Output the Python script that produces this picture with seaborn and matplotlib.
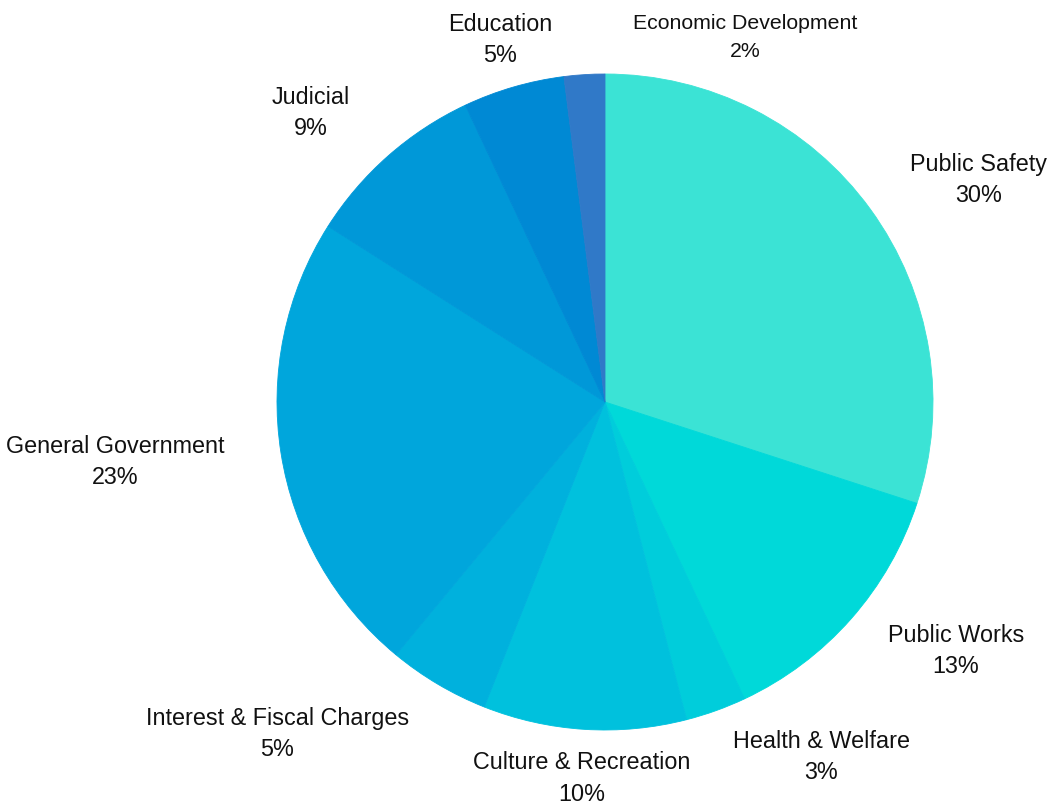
"""Expenditure share pie chart."""
import numpy as np
import matplotlib
matplotlib.use("Agg")
import matplotlib.pyplot as plt
import seaborn as sns

sns.set_theme(style="white")
plt.rcParams["font.family"] = ["Liberation Sans", "DejaVu Sans"]

# --- Data ---
categories = ["Public Safety", "Public Works", "Health & Welfare", "Culture & Recreation",
              "Interest & Fiscal Charges", "General Government", "Judicial", "Education",
              "Economic Development"]
shares = [30, 13, 3, 10, 5, 23, 9, 5, 2]
colors = ["#3be3d5", "#00d9d9", "#00cddb", "#00c1dd", "#00b1dd",
          "#00a6dc", "#0098d8", "#0089d4", "#3079c8"]
palette = sns.color_palette(colors)

W, H = 1048, 806
CX, CY, R = 605, 402, 328

fig = plt.figure(figsize=(W / 100, H / 100), dpi=100)
ax = fig.add_axes([0, 0, 1, 1])
wedges, _ = ax.pie(shares, colors=palette, startangle=90, counterclock=False,
                   wedgeprops={"linewidth": 0.6, "edgecolor": None})
for w in wedges:
    w.set_edgecolor(w.get_facecolor())

ax.set_xlim(-CX / R, (W - CX) / R)
ax.set_ylim(-(H - CY) / R, CY / R)
ax.set_axis_off()

# labels outside each wedge
for w, name, val in zip(wedges, categories, shares):
    mid = np.deg2rad((w.theta1 + w.theta2) / 2)
    c = np.cos(mid)
    size, spacing = 16.8, 1.45
    if abs(c) < 0.3:
        ha, r = "center", 1.15
    elif c > 0:
        ha, r = "left", 1.15
    else:
        ha, r = "right", 1.175
    x, y = r * c, r * np.sin(mid)
    if name == "Economic Development":
        # nudged right so it clears the Education label
        x, y, ha, size, spacing = 0.085, 1.11, "left", 15.3, 1.6
    ax.text(x, y, f"{name}\n{val}%", ha=ha, va="center", multialignment="center",
            fontsize=size, color="#111111", linespacing=spacing)

plt.savefig("out.png", dpi=100, facecolor="white")
plt.close()
print("out.png OK")
